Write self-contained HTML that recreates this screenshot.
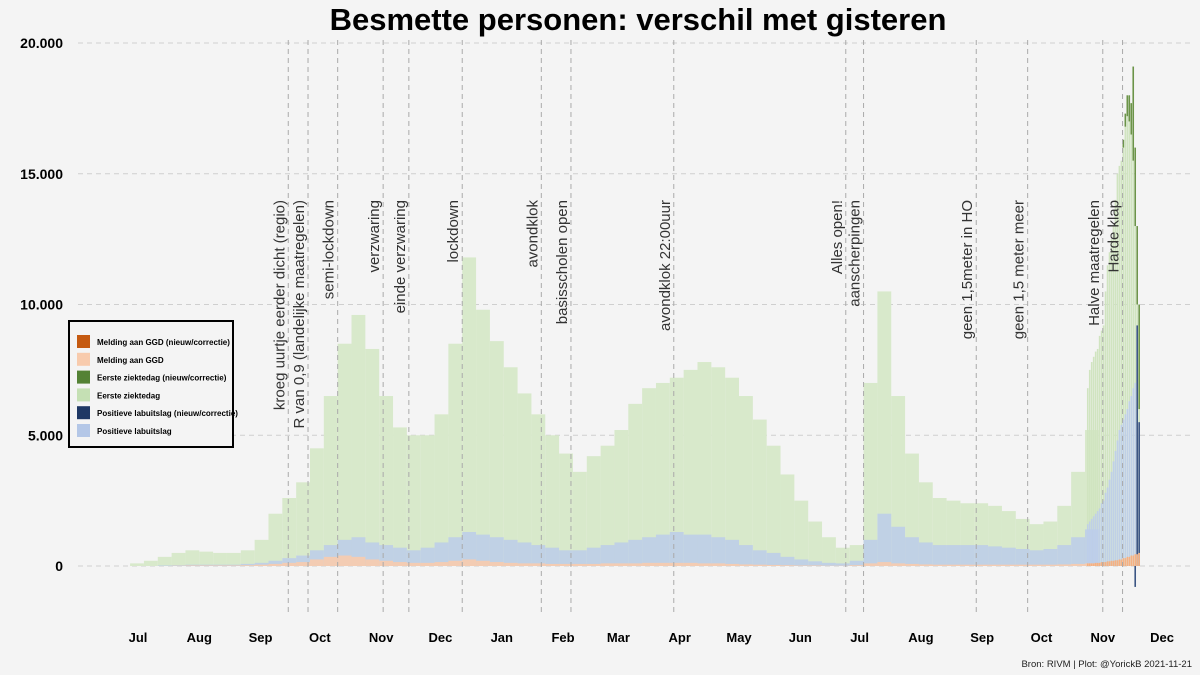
<!DOCTYPE html>
<html><head><meta charset="utf-8"><style>
html,body{margin:0;padding:0;background:#f4f4f4;}
svg{display:block;font-family:"Liberation Sans",Arial,sans-serif;}
</style></head><body>
<svg id="chart" width="1200" height="675" viewBox="0 0 1200 675">
<rect width="1200" height="675" fill="#f4f4f4"/>
<text x="638" y="30" text-anchor="middle" font-size="31" font-weight="bold" fill="#000">Besmette personen: verschil met gisteren</text>
<g id="grid"></g>
<g id="yticks"></g>
<g id="bars"></g>
<g id="events"></g>
<g id="xticks"></g>
<g>
<rect x="69" y="321" width="164" height="126" fill="#f4f4f4" stroke="#000" stroke-width="2"/>
<g id="legend"></g>
</g>
<text x="1192" y="667" text-anchor="end" font-size="9.5" fill="#222">Bron: RIVM | Plot: @YorickB  2021-11-21</text>
</svg>
<script>
const greenWeekly=[0.1,0.2,0.35,0.5,0.6,0.55,0.5,0.5,0.6,1.0,2.0,2.6,3.2,4.5,6.5,8.5,9.6,8.3,6.5,5.3,5.0,5.0,5.8,8.5,11.8,9.8,8.6,7.6,6.6,5.8,5.0,4.3,3.6,4.2,4.6,5.2,6.2,6.8,7.0,7.2,7.5,7.8,7.6,7.2,6.5,5.6,4.6,3.5,2.5,1.7,1.1,0.7,0.8,7.0,10.5,6.5,4.3,3.2,2.6,2.5,2.4,2.4,2.3,2.1,1.8,1.6,1.7,2.3,3.6,5.2];
const blueWeekly=[0,0,0.02,0.03,0.05,0.05,0.05,0.05,0.08,0.12,0.2,0.3,0.4,0.6,0.8,1.0,1.1,0.9,0.8,0.7,0.6,0.7,0.9,1.1,1.3,1.2,1.1,1.0,0.9,0.8,0.7,0.6,0.6,0.7,0.8,0.9,1.0,1.1,1.2,1.3,1.2,1.2,1.1,1.0,0.8,0.6,0.5,0.35,0.25,0.18,0.12,0.1,0.2,1.0,2.0,1.5,1.1,0.9,0.8,0.8,0.8,0.8,0.75,0.7,0.65,0.6,0.65,0.8,1.1,1.4];
const orangeWeekly=[0,0,0,0.01,0.02,0.02,0.02,0.02,0.03,0.05,0.08,0.12,0.15,0.25,0.35,0.4,0.35,0.25,0.2,0.15,0.12,0.12,0.15,0.2,0.25,0.2,0.15,0.12,0.1,0.1,0.08,0.08,0.08,0.08,0.1,0.1,0.1,0.12,0.12,0.12,0.12,0.1,0.1,0.08,0.06,0.05,0.04,0.03,0.02,0.02,0.01,0.01,0.03,0.1,0.15,0.1,0.08,0.06,0.05,0.05,0.05,0.05,0.05,0.05,0.05,0.05,0.05,0.06,0.08,0.1];
const greenDaily=[6.8,7.5,7.8,8.0,8.2,8.3,8.8,9.0,9.2,10.5,11.5,12.0,12.5,13.0,14.0,15.0,15.3,15.5,16.0,16.8,17.2,17.0,16.5,15.5,13.0,10.0,6.0];
const greenCorr=[0,0,0,0,0,0,0,0,0,0,0,0,0,0,0,0,0,0,0.3,0.5,0.8,1.0,1.2,3.6,3.0,3.0,4.0];
const blueDaily=[1.6,1.7,1.8,1.9,2.0,2.1,2.2,2.4,2.5,2.8,3.0,3.3,3.6,4.0,4.4,4.8,5.2,5.4,5.6,5.8,6.0,6.3,6.5,6.8,7.0,5.5,5.0];
const blueCorr=[0,0,0,0,0,0,0,0,0,0,0,0,0,0,0,0,0,0,0,0,0,0,0,0,-0.8,9.2,5.5];
const orangeDaily=[0.1,0.1,0.1,0.1,0.12,0.12,0.12,0.15,0.15,0.15,0.18,0.18,0.2,0.2,0.22,0.22,0.25,0.25,0.3,0.3,0.35,0.35,0.4,0.4,0.45,0.45,0.5];
const yTicks=[0,5,10,15,20];
const yTickLabels=["0","5.000","10.000","15.000","20.000"];
const months=["Jul","Aug","Sep","Oct","Nov","Dec","Jan","Feb","Mar","Apr","May","Jun","Jul","Aug","Sep","Oct","Nov","Dec"];
const monthDays=[0,31,62,92,123,153,184,215,243,274,304,335,365,396,427,457,488,518];
const eventDays=[76,86,101,124,137,164,204,219,271,358,367,424,450,488,498];
const eventLabels=["kroeg uurtje eerder dicht (regio)","R van 0,9 (landelijke maatregelen)","semi-lockdown","verzwaring","einde verzwaring","lockdown","avondklok","basisscholen open","avondklok 22:00uur","Alles open!","aanscherpingen","geen 1,5meter in HO","geen 1,5 meter meer","Halve maatregelen","Harde klap"];
const legendLabels=["Melding aan GGD (nieuw/correctie)","Melding aan GGD","Eerste ziektedag (nieuw/correctie)","Eerste ziektedag","Positieve labuitslag (nieuw/correctie)","Positieve labuitslag"];
const legendColors=["#c55a11","#f8cbad","#548235","#c5e0b4","#1f3864","#b4c7e7"];

const NS="http://www.w3.org/2000/svg";
const xs=d=>138+d*1.977;
const ys=v=>566-v*26.15;
function el(tag,attrs,parent){const e=document.createElementNS(NS,tag);for(const k in attrs)e.setAttribute(k,attrs[k]);parent.appendChild(e);return e;}
const G=id=>document.getElementById(id);

yTicks.forEach((t,i)=>{
  const l=el('line',{x1:78,x2:1192,y1:ys(t),y2:ys(t),stroke:'#cfcfcf','stroke-dasharray':'5,4','stroke-width':1},G('grid'));
  
  
  const tx=el('text',{x:63,y:ys(t)+5,'text-anchor':'end','font-size':14,'font-weight':'bold',fill:'#000'},G('yticks'));
  tx.textContent=yTickLabels[i];
  
  
});
months.forEach((m,i)=>{
  const tx=el('text',{x:xs(monthDays[i]),y:642,'text-anchor':'middle','font-size':13,'font-weight':'bold',fill:'#000'},G('xticks'));
  tx.textContent=m;
  
  
});
function bar(d,w,v0,v1,fill,op,name){
  const top=Math.min(ys(v0),ys(v1)),h=Math.abs(ys(v1)-ys(v0));
  const r=el('rect',{x:xs(d),y:top,width:w,height:Math.max(h,0),fill:fill,'fill-opacity':op},G('bars'));
  
  
}
const wW=7*1.977;
greenWeekly.forEach((v,i)=>bar(-4+7*i,wW,0,v,'#d8e9cb',1,'bar-eerste-ziektedag'));
greenDaily.forEach((v,i)=>bar(480+i,1.6,0,v,'#d0e4c0',1,'bar-eerste-ziektedag'));
greenCorr.forEach((v,i)=>{if(v)bar(480+i,1.6,greenDaily[i],greenDaily[i]+v,'#6b9448',1,'bar-eerste-ziektedag-correctie');});
blueWeekly.forEach((v,i)=>bar(-4+7*i,wW,0,v,'#bccdea',0.85,'bar-positieve-labuitslag'));
blueDaily.forEach((v,i)=>bar(480+i,1.6,0,v,'#bccdea',0.9,'bar-positieve-labuitslag'));
blueCorr.forEach((v,i)=>{if(v)bar(480+i,1.6,0,v,'#3b5583',1,'bar-positieve-labuitslag-correctie');});
orangeWeekly.forEach((v,i)=>bar(-4+7*i,wW,0,v,'#f8cbad',0.9,'bar-melding-ggd'));
orangeDaily.forEach((v,i)=>bar(480+i,1.6,0,v,'#f4b183',1,'bar-melding-ggd'));

eventDays.forEach((d,i)=>{
  const x=xs(d);
  const l=el('line',{x1:x,x2:x,y1:40,y2:615,stroke:'#aaa','stroke-dasharray':'5,4','stroke-width':1},G('events'));
  
  
  const tx=el('text',{x:0,y:0,'text-anchor':'end','font-size':15,fill:'#333',transform:`translate(${x-4},200) rotate(-90)`},G('events'));
  tx.textContent=eventLabels[i];
  
  
});
legendLabels.forEach((lab,i)=>{
  const y=335+i*17.8;
  const r=el('rect',{x:77,y:y,width:13,height:13,fill:legendColors[i]},G('legend'));
  
  
  const tx=el('text',{x:97,y:y+10,'font-size':8,'font-weight':'bold',fill:'#000'},G('legend'));
  tx.textContent=lab;
  
  
});
</script>
</body></html>
